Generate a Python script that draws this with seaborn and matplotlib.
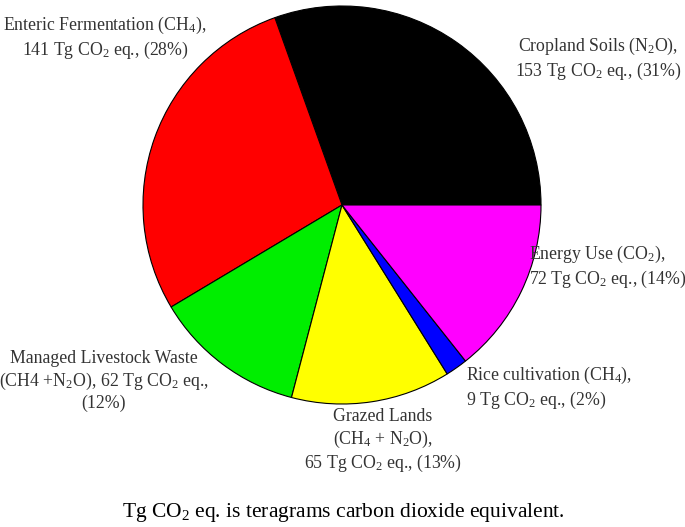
import numpy as np
import matplotlib
matplotlib.use('Agg')
import matplotlib.pyplot as plt
import seaborn as sns

# data
sources = ['Cropland Soils', 'Enteric Fermentation', 'Managed Livestock Waste',
           'Grazed Lands', 'Rice cultivation', 'Energy Use']
emissions = [153, 141, 62, 65, 9, 72]
colors = ['#000000', '#ff0000', '#00ee00', '#ffff00', '#0000ff', '#ff00ff']

label_texts = [
    'Cropland Soils (N$_2$O),\n153 Tg CO$_2$ eq., (31%)',
    'Enteric Fermentation (CH$_4$),\n141 Tg CO$_2$ eq., (28%)',
    'Managed Livestock Waste\n(CH4 +N$_2$O), 62 Tg CO$_2$ eq.,\n(12%)',
    'Grazed Lands\n(CH$_4$ + N$_2$O),\n65 Tg CO$_2$ eq., (13%)',
    'Rice cultivation (CH$_4$),\n9 Tg CO$_2$ eq., (2%)',
    'Energy Use (CO$_2$),\n72 Tg CO$_2$ eq., (14%)',
]
footnote = 'Tg CO$_2$ eq. is teragrams carbon dioxide equivalent.'

sns.set_theme(style='white')
plt.rcParams['font.family'] = ['Liberation Serif', 'DejaVu Serif']
plt.rcParams['mathtext.fontset'] = 'custom'
plt.rcParams['mathtext.rm'] = 'Liberation Serif'
plt.rcParams['mathtext.it'] = 'Liberation Serif:italic'
plt.rcParams['mathtext.default'] = 'regular'

W, H = 685, 527
fig = plt.figure(figsize=(W / 100, H / 100), dpi=100)

# pie centre ~ (342, 205) px, radius ~ 201 px
cx, cy, r = 342, 205, 201
ax = fig.add_axes([(cx - r) / W, 1 - (cy + r) / H, 2 * r / W, 2 * r / H])
ax.pie(emissions, colors=colors, startangle=0, counterclock=True,
       wedgeprops=dict(edgecolor='black', linewidth=0.8))
ax.set_xlim(-1.01, 1.01)
ax.set_ylim(-1.01, 1.01)
ax.set_aspect('equal')
ax.axis('off')


def px(x, y):
    return x / W, 1 - y / H


# label anchor positions in pixels (x, y, ha)
label_pos = [
    (598, 59, 'center'),
    (105, 38, 'center'),
    (104, 381, 'center'),
    (383, 441, 'center'),
    (466, 388, 'left'),
    (529, 267, 'left'),
]
for txt, (x, y, ha) in zip(label_texts, label_pos):
    fig.text(*px(x, y), txt, ha=ha, va='center', fontsize=12.8,
             color='#333333', linespacing=1.2)

fig.text(*px(343, 512), footnote, ha='center', va='center', fontsize=15.5,
         color='black')

fig.savefig('out.png', dpi=100, facecolor='white')
